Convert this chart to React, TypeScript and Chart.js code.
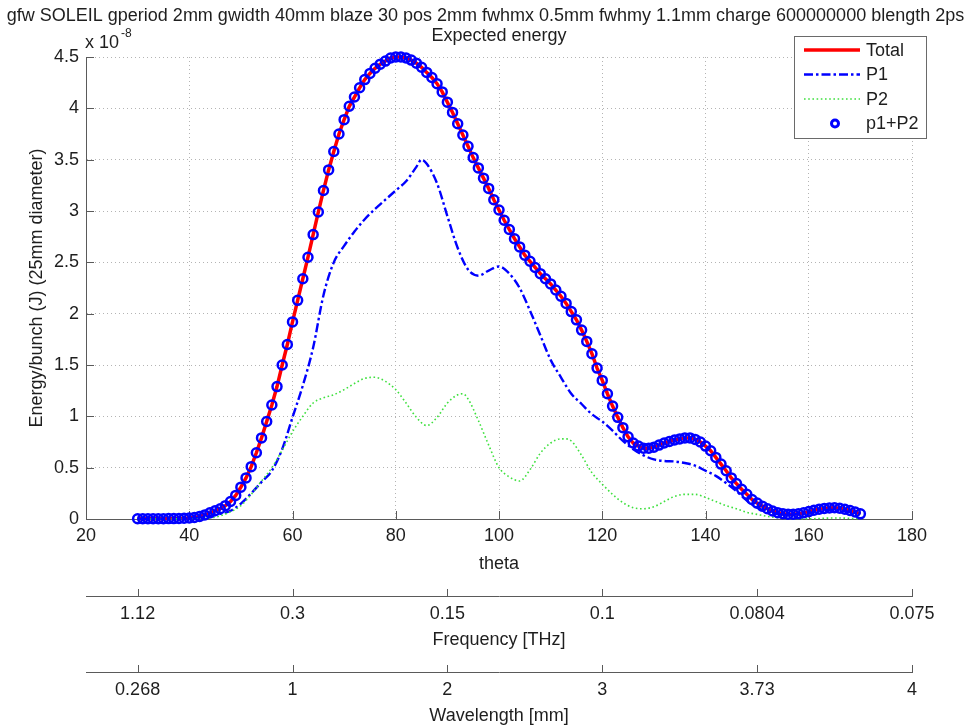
import React, { useEffect, useRef } from "react";
import { Chart, registerables } from "chart.js";

Chart.register(...registerables);

// ---------- texts ----------
const mainTitle =
  "gfw SOLEIL gperiod 2mm gwidth 40mm blaze 30 pos 2mm fwhmx 0.5mm fwhmy 1.1mm charge 600000000 blength 2ps";
const subTitle = "Expected energy";
const yAxisTitle = "Energy/bunch (J) (25mm diameter)";
const yExponentBase = "x 10";
const yExponentPower = "-8";
const thetaTitle = "theta";
const frequencyTitle = "Frequency [THz]";
const wavelengthTitle = "Wavelength [mm]";
const legendLabels = ["Total", "P1", "P2", "p1+P2"];

// ---------- data (energy in units of 1e-8 J) ----------
const thetaTotal = [
  30, 31, 32, 33, 34, 35, 36, 37, 38, 39, 40, 41, 42, 43, 44, 45, 46, 47, 48, 49,
  50, 51, 52, 53, 54, 55, 56, 57, 58, 59, 60, 61, 62, 63, 64, 65, 66, 67, 68, 69,
  70, 71, 72, 73, 74, 75, 76, 77, 78, 79, 80, 81, 82, 83, 84, 85, 86, 87, 88, 89,
  90, 91, 92, 93, 94, 95, 96, 97, 98, 99, 100, 101, 102, 103, 104, 105, 106, 107, 108, 109,
  110, 111, 112, 113, 114, 115, 116, 117, 118, 119, 120, 121, 122, 123, 124, 125, 126, 127, 128, 129,
  130, 131, 132, 133, 134, 135, 136, 137, 138, 139, 140, 141, 142, 143, 144, 145, 146, 147, 148, 149,
  150, 151, 152, 153, 154, 155, 156, 157, 158, 159, 160, 161, 162, 163, 164, 165, 166, 167, 168, 169,
  170,
];
const totalEnergy = [
  0.003, 0.003, 0.003, 0.003, 0.003, 0.003, 0.004, 0.004, 0.005, 0.007, 0.01, 0.015, 0.025, 0.04, 0.06, 0.08, 0.1, 0.13, 0.17, 0.23,
  0.31, 0.4, 0.51, 0.645, 0.79, 0.95, 1.11, 1.29, 1.5, 1.7, 1.92, 2.13, 2.34, 2.55, 2.77, 2.99, 3.2, 3.4, 3.58, 3.75,
  3.89, 4.02, 4.11, 4.2, 4.28, 4.34, 4.39, 4.43, 4.46, 4.49, 4.5, 4.5, 4.49, 4.47, 4.44, 4.4, 4.35, 4.3, 4.24, 4.16,
  4.06, 3.96, 3.85, 3.74, 3.63, 3.52, 3.42, 3.32, 3.22, 3.11, 3.01, 2.91, 2.82, 2.73, 2.65, 2.57, 2.51, 2.45, 2.39, 2.34,
  2.29, 2.23, 2.17, 2.1, 2.02, 1.94, 1.84, 1.73, 1.61, 1.47, 1.35, 1.22, 1.1, 0.99, 0.89, 0.8, 0.74, 0.71, 0.69, 0.69,
  0.7, 0.72, 0.74, 0.755, 0.77, 0.78, 0.79, 0.79, 0.775, 0.75, 0.71, 0.665, 0.6, 0.535, 0.47, 0.4, 0.345, 0.29, 0.24, 0.19,
  0.155, 0.125, 0.1, 0.078, 0.062, 0.052, 0.047, 0.046, 0.05, 0.06, 0.072, 0.085, 0.095, 0.103, 0.108, 0.11, 0.105, 0.095, 0.083, 0.068,
  0.05,
];

const thetaP1 = [
  30, 36, 40, 44, 46, 48, 50, 52, 54, 56, 58, 60, 62, 64, 66, 68, 70, 72, 74, 76,
  78, 80, 82, 84, 85, 86, 88, 90, 92, 94, 96, 98, 100, 102, 104, 106, 108, 110, 112, 114,
  116, 118, 120, 122, 124, 126, 128, 130, 132, 134, 136, 138, 140, 142, 144, 146, 148, 150, 152, 154,
  156, 160, 164, 168, 170,
];
const p1Energy = [
  0, 0.002, 0.005, 0.03, 0.05, 0.08, 0.15, 0.25, 0.36, 0.47, 0.68, 0.99, 1.3, 1.67, 2.18, 2.5, 2.66, 2.8, 2.92, 3.02,
  3.11, 3.2, 3.29, 3.43, 3.5, 3.46, 3.27, 2.95, 2.64, 2.43, 2.37, 2.42, 2.46, 2.39, 2.25, 2.03, 1.79, 1.55, 1.38, 1.22,
  1.12, 1.02, 0.95, 0.86, 0.76, 0.68, 0.62, 0.58, 0.565, 0.56, 0.545, 0.52, 0.47, 0.42, 0.35, 0.27, 0.18, 0.11, 0.075, 0.05,
  0.042, 0.06, 0.09, 0.07, 0.05,
];

const thetaP2 = [
  30, 40, 44, 46, 48, 50, 52, 54, 56, 58, 60, 62, 64, 66, 68, 70, 72, 74, 76, 78,
  80, 82, 84, 86, 88, 90, 92, 93, 94, 96, 98, 100, 102, 104, 106, 108, 110, 112, 113, 114,
  116, 118, 120, 122, 124, 126, 128, 130, 132, 134, 136, 138, 140, 142, 144, 146, 148, 150, 152, 154,
  156, 160, 165, 170,
];
const p2Energy = [
  0, 0.002, 0.01, 0.03, 0.07, 0.13, 0.24, 0.37, 0.5, 0.67, 0.85, 1.0, 1.13, 1.18, 1.21, 1.26, 1.32, 1.37, 1.38, 1.34,
  1.26, 1.13, 0.99, 0.91, 0.99, 1.13, 1.21, 1.22, 1.17, 0.96, 0.72, 0.5, 0.41, 0.37, 0.48, 0.64, 0.74, 0.78, 0.78, 0.76,
  0.62, 0.45, 0.34, 0.24, 0.16, 0.11, 0.1, 0.12, 0.17, 0.22, 0.24, 0.24, 0.21, 0.17, 0.13, 0.1, 0.065, 0.045, 0.025, 0.012,
  0.005, 0.002, 0.01, 0.003,
];

const yTickValues = [0, 0.5, 1, 1.5, 2, 2.5, 3, 3.5, 4, 4.5];
const yTickLabels = ["0", "0.5", "1", "1.5", "2", "2.5", "3", "3.5", "4", "4.5"];
const thetaTickValues = [20, 40, 60, 80, 100, 120, 140, 160, 180];
const secondaryTickTheta = [30, 60, 90, 120, 150, 180];
const frequencyTickLabels = ["1.12", "0.3", "0.15", "0.1", "0.0804", "0.075"];
const wavelengthTickLabels = ["0.268", "1", "2", "3", "3.73", "4"];

// ---------- styles ----------
const FONT = "'Liberation Sans', Arial, Helvetica, sans-serif";
const TEXT = "#1e1e1e";
const AXIS = "#5a5a5a";
const GRID = "#b4b4b4";
const RED = "#ff0000";
const BLUE = "#0000ff";
const GREEN = "#3ee03e";

const pts = (xs: number[], ys: number[]) => xs.map((x, i) => ({ x, y: ys[i] }));

const decorPlugin = {
  id: "matlabDecor",
  beforeDatasetsDraw(chart: any) {
    const ctx = chart.ctx;
    const { x, y, x2, x3 } = chart.scales;
    const area = chart.chartArea;
    ctx.save();
    ctx.strokeStyle = AXIS;
    ctx.lineWidth = 1;
    ctx.beginPath();
    y.ticks.forEach((t: any) => {
      const py = Math.round(y.getPixelForValue(t.value)) + 0.5;
      ctx.moveTo(area.left, py);
      ctx.lineTo(area.left + 8, py);
    });
    x.ticks.forEach((t: any) => {
      const px = Math.round(x.getPixelForValue(t.value)) + 0.5;
      ctx.moveTo(px, area.bottom);
      ctx.lineTo(px, area.bottom - 8);
    });
    [x2, x3].forEach((s: any) => {
      s.ticks.forEach((t: any) => {
        const px = Math.round(s.getPixelForValue(t.value)) + 0.5;
        ctx.moveTo(px, s.top);
        ctx.lineTo(px, s.top - 7);
      });
    });
    ctx.stroke();
    ctx.restore();
  },
  afterDraw(chart: any) {
    const ctx = chart.ctx;
    const area = chart.chartArea;
    ctx.save();
    ctx.fillStyle = TEXT;
    ctx.textBaseline = "alphabetic";
    ctx.textAlign = "center";
    ctx.font = `18px ${FONT}`;
    ctx.fillText(mainTitle, chart.width / 2, 21);
    ctx.fillText(subTitle, (area.left + area.right) / 2, 41);
    // exponent
    ctx.textAlign = "left";
    ctx.fillText(yExponentBase, area.left - 1, 48);
    const bw = ctx.measureText(yExponentBase).width;
    ctx.font = `12px ${FONT}`;
    ctx.fillText(yExponentPower, area.left - 1 + bw + 2, 37);

    // legend
    const lx = 794.5, ly = 36.5, lw = 132, lh = 102;
    ctx.fillStyle = "#ffffff";
    ctx.fillRect(lx, ly, lw, lh);
    ctx.strokeStyle = "#6a6a6a";
    ctx.lineWidth = 1;
    ctx.strokeRect(lx, ly, lw, lh);
    const rows = [50, 74.5, 99, 123.5];
    const ds = chart.data.datasets;
    rows.forEach((ry, i) => {
      const d = ds[i];
      ctx.save();
      if (i < 3) {
        ctx.strokeStyle = d.borderColor;
        ctx.lineWidth = d.borderWidth;
        ctx.setLineDash(d.borderDash || []);
        ctx.beginPath();
        ctx.moveTo(804, ry);
        ctx.lineTo(860, ry);
        ctx.stroke();
      } else {
        ctx.strokeStyle = d.pointBorderColor;
        ctx.lineWidth = 3;
        ctx.beginPath();
        ctx.arc(835, ry, 3.5, 0, Math.PI * 2);
        ctx.stroke();
      }
      ctx.restore();
      ctx.fillStyle = TEXT;
      ctx.font = `18px ${FONT}`;
      ctx.textAlign = "left";
      ctx.textBaseline = "middle";
      ctx.fillText(legendLabels[i], 866, ry + 1);
    });
    ctx.restore();
  },
};

export default function App() {
  const ref = useRef<HTMLCanvasElement | null>(null);
  useEffect(() => {
    document.body.style.margin = "0";
    const canvas = ref.current;
    if (!canvas) return;
    const tickFont = { family: FONT, size: 18 };
    const chart = new Chart(canvas, {
      type: "line",
      data: {
        datasets: [
          {
            label: legendLabels[0],
            data: pts(thetaTotal, totalEnergy),
            borderColor: RED,
            backgroundColor: RED,
            borderWidth: 3.5,
            pointRadius: 0,
            tension: 0,
            order: 3,
            clip: false as any,
          },
          {
            label: legendLabels[1],
            data: pts(thetaP1, p1Energy),
            borderColor: BLUE,
            backgroundColor: BLUE,
            borderWidth: 2.4,
            borderDash: [9, 3, 2.5, 3],
            pointRadius: 0,
            cubicInterpolationMode: "monotone",
            order: 2,
            clip: false as any,
          },
          {
            label: legendLabels[2],
            data: pts(thetaP2, p2Energy),
            borderColor: GREEN,
            backgroundColor: GREEN,
            borderWidth: 1.6,
            borderDash: [1.6, 2.6],
            pointRadius: 0,
            cubicInterpolationMode: "monotone",
            order: 1,
            clip: false as any,
          },
          {
            label: legendLabels[3],
            data: pts(thetaTotal, totalEnergy),
            showLine: false,
            pointStyle: "circle",
            pointRadius: 4.5,
            pointBorderWidth: 2.5,
            pointBorderColor: BLUE,
            pointBackgroundColor: "rgba(0,0,0,0)",
            borderColor: BLUE,
            order: 0,
            clip: false as any,
          },
        ] as any,
      },
      options: {
        animation: false,
        responsive: false,
        devicePixelRatio: 1,
        layout: { padding: { top: 57, right: 59, left: 0, bottom: 0 } },
        plugins: {
          legend: { display: false },
          tooltip: { enabled: false },
          title: { display: false },
        },
        elements: { line: { borderCapStyle: "butt" } },
        scales: {
          x: {
            type: "linear",
            position: "bottom",
            weight: 0,
            min: 20,
            max: 180,
            afterBuildTicks: (s: any) => {
              s.ticks = thetaTickValues.map((v) => ({ value: v }));
            },
            afterFit: (s: any) => {
              s.height = 77;
            },
            ticks: { font: tickFont, color: TEXT, padding: 6, maxRotation: 0, autoSkip: false },
            grid: { display: true, drawOnChartArea: true, drawTicks: false, color: GRID, lineWidth: 1 },
            border: { display: true, color: AXIS, width: 1, dash: [1, 3] },
            title: { display: true, text: thetaTitle, font: tickFont, color: TEXT, padding: { top: 0, bottom: 21 } },
          },
          x2: {
            type: "linear",
            position: "bottom",
            weight: 1,
            min: 20,
            max: 180,
            afterBuildTicks: (s: any) => {
              s.ticks = secondaryTickTheta.map((v) => ({ value: v }));
            },
            afterFit: (s: any) => {
              s.height = 76;
            },
            ticks: {
              font: tickFont,
              color: TEXT,
              padding: 7,
              maxRotation: 0,
              autoSkip: false,
              callback: (_v: any, i: number) => frequencyTickLabels[i],
            },
            grid: { display: false, drawTicks: false },
            border: { display: true, color: AXIS, width: 1 },
            title: { display: true, text: frequencyTitle, font: tickFont, color: TEXT, padding: { top: 0, bottom: 21 } },
          },
          x3: {
            type: "linear",
            position: "bottom",
            weight: 2,
            min: 20,
            max: 180,
            afterBuildTicks: (s: any) => {
              s.ticks = secondaryTickTheta.map((v) => ({ value: v }));
            },
            afterFit: (s: any) => {
              s.height = 56;
            },
            ticks: {
              font: tickFont,
              color: TEXT,
              padding: 7,
              maxRotation: 0,
              autoSkip: false,
              callback: (_v: any, i: number) => wavelengthTickLabels[i],
            },
            grid: { display: false, drawTicks: false },
            border: { display: true, color: AXIS, width: 1 },
            title: { display: true, text: wavelengthTitle, font: tickFont, color: TEXT, padding: { top: 0, bottom: 1 } },
          },
          y: {
            type: "linear",
            position: "left",
            min: 0,
            max: 4.5,
            afterBuildTicks: (s: any) => {
              s.ticks = yTickValues.map((v) => ({ value: v }));
            },
            afterFit: (s: any) => {
              s.width = 86;
            },
            ticks: {
              font: tickFont,
              color: TEXT,
              padding: 7,
              callback: (_v: any, i: number) => yTickLabels[i],
            },
            grid: { display: true, drawOnChartArea: true, drawTicks: false, color: GRID, lineWidth: 1 },
            border: { display: true, color: AXIS, width: 1, dash: [1, 3] },
            title: { display: true, text: yAxisTitle, font: tickFont, color: TEXT, padding: { top: 26, bottom: 0 } },
          },
        },
      } as any,
      plugins: [decorPlugin],
    });
    return () => chart.destroy();
  }, []);
  return (
    <div style={{ width: 971, height: 728, background: "#fff" }}>
      <canvas ref={ref} width={971} height={728} style={{ display: "block" }} />
    </div>
  );
}
